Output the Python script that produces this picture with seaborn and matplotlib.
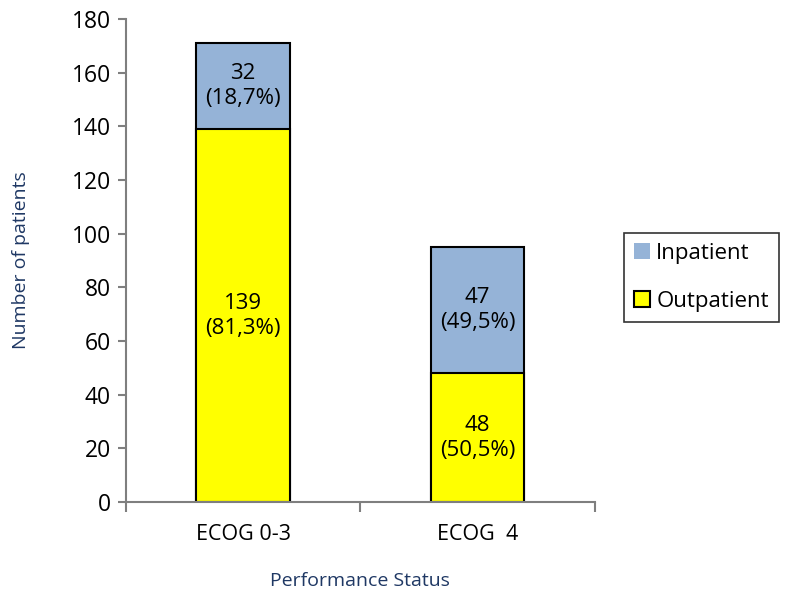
import pandas as pd
import numpy as np
import seaborn as sns
import matplotlib.pyplot as plt
from matplotlib.patches import Patch

# Data
categories = ['ECOG 0-3', 'ECOG  4']
outpatient = [139, 48]
inpatient = [32, 47]
out_labels = ['139\n(81,3%)', '48\n(50,5%)']
in_labels = ['32\n(18,7%)', '47\n(49,5%)']

df = pd.DataFrame({'status': categories,
                   'Outpatient': outpatient,
                   'Inpatient': inpatient})
df['total'] = df['Outpatient'] + df['Inpatient']

sns.set_style('white')
plt.rcParams['font.family'] = ['Open Sans', 'DejaVu Sans']
plt.rcParams['text.color'] = 'black'
plt.rcParams['xtick.color'] = 'black'
plt.rcParams['ytick.color'] = 'black'

blue = '#95B3D7'
yellow = '#FFFF00'
axis_grey = '#7f7f7f'
navy = '#1F3864'

fig = plt.figure(figsize=(8, 6.03), dpi=100)
ax = fig.add_axes([0.1575, 0.1675, 0.586, 0.801])

# stacked bars: totals first (inpatient on top), outpatient drawn over
sns.barplot(ax=ax, data=df, x='status', y='total', order=categories,
            color=blue, width=0.4, edgecolor='black', linewidth=1.5,
            saturation=1)
sns.barplot(ax=ax, data=df, x='status', y='Outpatient', order=categories,
            color=yellow, width=0.4, edgecolor='black', linewidth=1.5,
            saturation=1)

# labels in the middle of each segment
for i in range(len(categories)):
    ax.text(i, outpatient[i] / 2, out_labels[i], ha='center', va='center',
            fontsize=16, linespacing=1.25)
    ax.text(i, outpatient[i] + inpatient[i] / 2, in_labels[i], ha='center',
            va='center', fontsize=16, linespacing=1.25)

ax.set_xlim(-0.5, 1.5)
ax.set_ylim(0, 180)
ax.set_yticks(np.arange(0, 181, 20))
ax.tick_params(axis='y', labelsize=16.5, length=6, width=1.5, color=axis_grey,
               labelcolor='black', direction='out', left=True, pad=5)
ax.set_xticks([0, 1])
ax.set_xticklabels(categories, fontsize=15.5)
ax.tick_params(axis='x', length=0, pad=16, labelcolor='black')
# boundary ticks between categories like the original
ax.set_xticks([-0.5, 0.5, 1.5], minor=True)
ax.tick_params(axis='x', which='minor', length=7, width=1.5, color=axis_grey,
               direction='out', bottom=True)

for side in ['top', 'right']:
    ax.spines[side].set_visible(False)
for side in ['left', 'bottom']:
    ax.spines[side].set_color(axis_grey)
    ax.spines[side].set_linewidth(1.5)

ax.set_xlabel('Performance Status', fontsize=14, color=navy, labelpad=19)
ax.set_ylabel('Number of patients', fontsize=14, color=navy, labelpad=30)

handles = [Patch(facecolor=blue, edgecolor='none', label='Inpatient'),
           Patch(facecolor=yellow, edgecolor='black', linewidth=1.5,
                 label='Outpatient')]
leg = fig.legend(handles=handles, loc='center left',
                 bbox_to_anchor=(0.78, 0.54), fontsize=16, frameon=True,
                 fancybox=False, edgecolor='black', handlelength=0.7,
                 handleheight=0.7, handletextpad=0.3, labelspacing=1.2,
                 borderpad=0.45, borderaxespad=0)
leg.get_frame().set_linewidth(1.2)

fig.savefig('out.png', dpi=100)
